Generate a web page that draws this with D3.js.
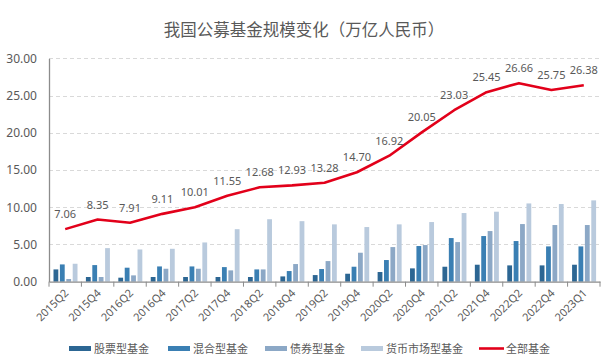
<!DOCTYPE html>
<html><head><meta charset="utf-8">
<script src="https://cdn.jsdelivr.net/npm/d3@7"></script>
<style>body{margin:0;background:#fff;}svg{display:block;font-family:"Noto Sans CJK SC","Noto Sans",sans-serif;}</style>
</head><body><svg id="c" width="610" height="364"></svg>
<script>
const categories = ["2015Q2","2015Q4","2016Q2","2016Q4","2017Q2","2017Q4","2018Q2","2018Q4","2019Q2","2019Q4","2020Q2","2020Q4","2021Q2","2021Q4","2022Q2","2022Q4","2023Q1"];
const stockFund = [1.65,0.63,0.54,0.63,0.63,0.63,0.63,0.71,0.89,1.07,1.30,1.79,2.01,2.28,2.19,2.19,2.28];
const mixedFund = [2.32,2.23,1.88,2.05,2.05,1.96,1.65,1.43,1.70,2.01,2.91,4.79,5.86,6.13,5.46,4.74,4.74];
const bondFund = [0.36,0.63,0.85,1.74,1.74,1.52,1.65,2.37,2.77,3.89,4.65,4.92,5.32,6.80,7.74,7.61,7.61];
const moneyFund = [2.41,4.51,4.33,4.42,5.27,7.05,8.39,8.13,7.70,7.34,7.70,8.01,9.22,9.40,10.51,10.43,10.92];
const totalFund = [7.06,8.35,7.91,9.11,10.01,11.55,12.68,12.93,13.28,14.70,16.92,20.05,23.03,25.45,26.66,25.75,26.38];
const yTicks = [0,5,10,15,20,25,30];
const seriesNames = ["股票型基金","混合型基金","债券型基金","货币市场型基金"];
const lineName = "全部基金";
const title = "我国公募基金规模变化（万亿人民币）";

const colors = ["#2c6693","#3a7fb3","#8ca8c6","#b9cadd"];
const lineColor = "#e2001a";
const textColor = "#595959";

const svg = d3.select("#c");
const m = {left:49, right:600, top:58.3, bottom:281.7};
const x = d3.scaleBand().domain(categories).range([m.left, m.right]);
const y = d3.scaleLinear().domain([0,30]).range([m.bottom, m.top]);
const xi = d3.scaleBand().domain(d3.range(4)).range([0, 24]).paddingInner(0.25);

svg.append("text").attr("x",304).attr("y",36).attr("text-anchor","middle")
  .attr("font-size",16.5).attr("fill",textColor).text(title);

// gridlines
svg.append("g").selectAll("line").data(yTicks.filter(d=>d>0)).join("line")
  .attr("x1",m.left).attr("x2",m.right).attr("y1",d=>Math.round(y(d))+0.5).attr("y2",d=>Math.round(y(d))+0.5)
  .attr("stroke","#d9d9d9").attr("stroke-dasharray","4,3");

// y axis
const ya = svg.append("g").attr("transform",`translate(${m.left},0)`)
  .call(d3.axisLeft(y).tickValues(yTicks).tickFormat(d3.format(".2f")).tickSize(0).tickPadding(12));
ya.select(".domain").attr("stroke","#8c8c8c").attr("stroke-width",1.3);
ya.selectAll("text").attr("font-size",12).attr("fill",textColor).attr("font-family","Noto Sans, sans-serif");

// bars
const all = [stockFund,mixedFund,bondFund,moneyFund];
all.forEach((s,i)=>{
  svg.append("g").selectAll("rect").data(s).join("rect")
    .attr("x",(d,j)=>x(categories[j])+4.5+xi(i)).attr("width",xi.bandwidth())
    .attr("y",d=>y(d)).attr("height",d=>y(0)-y(d)).attr("fill",colors[i]);
});

// x axis
const xa = svg.append("g").attr("transform",`translate(0,${m.bottom})`)
  .call(d3.axisBottom(x).tickSize(0).tickFormat(""));
xa.select(".domain").attr("stroke","#8c8c8c").attr("stroke-width",1.3);
xa.selectAll(".tick").remove();
const bounds = categories.map(c=>x(c)).concat([m.right]);
svg.append("g").selectAll("line").data(bounds).join("line")
  .attr("x1",d=>d).attr("x2",d=>d).attr("y1",m.bottom).attr("y2",m.bottom+5)
  .attr("stroke","#8c8c8c").attr("stroke-width",1);
svg.append("g").selectAll("text").data(categories).join("text")
  .attr("transform",d=>`translate(${x(d)+x.bandwidth()/2+4},${m.bottom+12}) rotate(-45)`)
  .attr("text-anchor","end").attr("font-size",11).attr("fill",textColor)
  .attr("font-family","Noto Sans, sans-serif").text(d=>d);

// line
const line = d3.line().x((d,j)=>x(categories[j])+x.bandwidth()/2).y(d=>y(d));
svg.append("path").datum(totalFund).attr("d",line).attr("fill","none")
  .attr("stroke",lineColor).attr("stroke-width",2.6).attr("stroke-linejoin","round");
svg.append("g").selectAll("text").data(totalFund).join("text")
  .attr("x",(d,j)=>x(categories[j])+x.bandwidth()/2).attr("y",d=>y(d)-11)
  .attr("text-anchor","middle").attr("font-size",11).attr("fill",textColor)
  .attr("font-family","Noto Sans, sans-serif").text(d=>d.toFixed(2));

// legend
const lg = svg.append("g");
const lx = [69,168,265,361,479];
seriesNames.forEach((n,i)=>{
  lg.append("rect").attr("x",lx[i]).attr("y",346).attr("width",22).attr("height",5).attr("fill",colors[i]);
  lg.append("text").attr("x",lx[i]+25).attr("y",352.5).attr("font-size",11).attr("fill",textColor).text(n);
});
lg.append("line").attr("x1",lx[4]).attr("x2",lx[4]+25).attr("y1",348.5).attr("y2",348.5).attr("stroke",lineColor).attr("stroke-width",2.6);
lg.append("text").attr("x",lx[4]+27).attr("y",352.5).attr("font-size",11).attr("fill",textColor).text(lineName);
</script></body></html>
